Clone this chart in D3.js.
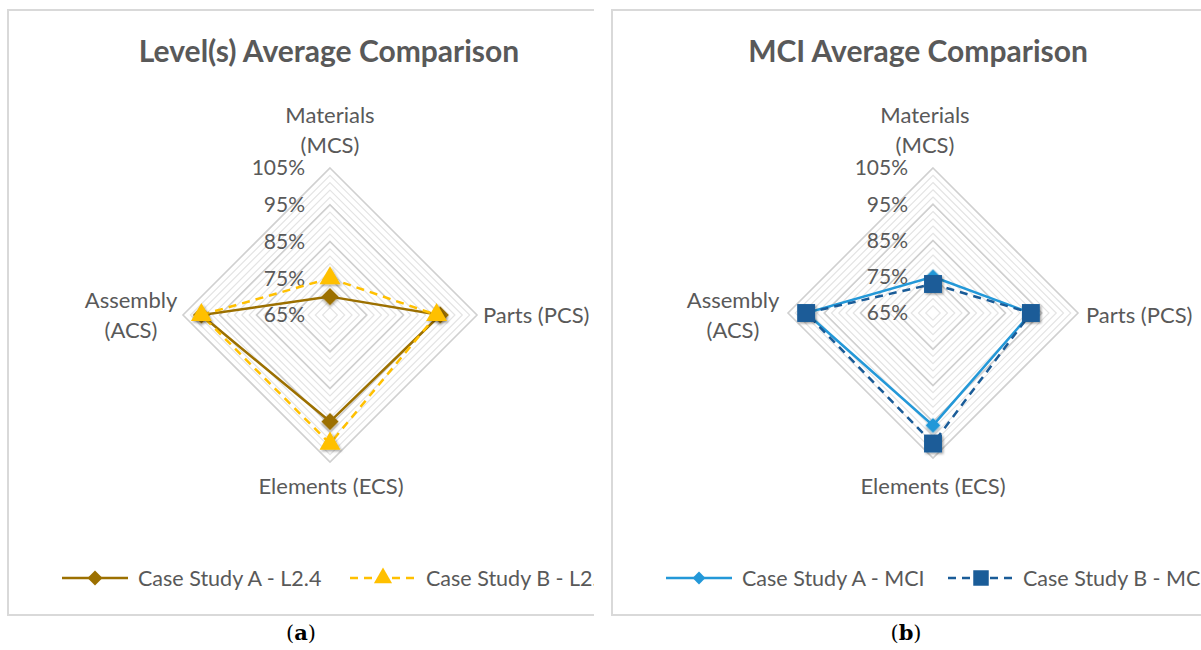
<!DOCTYPE html>
<html>
<head>
<meta charset="utf-8">
<script src="https://cdn.jsdelivr.net/npm/d3@7"></script>
<style>
  body { margin: 0; background: #fff; }
  svg { display: block; font-family: Lato, "Open Sans", sans-serif; }
</style>
</head>
<body>
<svg id="chart"></svg>
<script>
// Data
var axes = ["Materials (MCS)", "Parts (PCS)", "Elements (ECS)", "Assembly (ACS)"];
var ticks = [65, 75, 85, 95, 105];
var minorTicks = d3.range(67, 105, 2);
var levelA = [70, 95, 94, 100];
var levelB = [75, 94, 100, 100];
var mciA = [75, 92, 96, 100];
var mciB = [73, 92, 101, 100];

var width = 1201, height = 650;
var textColor = "#595959";

var svg = d3.select("#chart").attr("width", width).attr("height", height);
var defs = svg.append("defs");

defs.append("filter").attr("id", "shadow")
    .attr("x", "-50%").attr("y", "-50%").attr("width", "200%").attr("height", "200%")
  .append("feDropShadow")
    .attr("dx", 1.5).attr("dy", 1.5).attr("stdDeviation", 1.2)
    .attr("flood-color", "#000").attr("flood-opacity", 0.35);

var panels = [
  { id: "a", x: 8, y: 10, w: 644, h: 605, clipW: 586, cx: 330, cy: 315, R: 147,
    title: "Level(s) Average Comparison", titleX: 329, caption: "a", captionX: 301,
    series: [
      { name: "Case Study A - L2.4", values: levelA, color: "#9C7000", dash: null, marker: "diamond", size: 150 },
      { name: "Case Study B - L2.4", values: levelB, color: "#FFC000", dash: "8,6", marker: "triangle", size: 190 }
    ],
    labels: [
      { lines: ["Materials", "(MCS)"], x: 330, y: 115, anchor: "middle" },
      { lines: ["Parts (PCS)"], x: 483, y: 315, anchor: "start" },
      { lines: ["Elements (ECS)"], x: 331, y: 486, anchor: "middle" },
      { lines: ["Assembly", "(ACS)"], x: 131, y: 300, anchor: "middle" }
    ],
    legendX: [62, 350], legendTextX: [138, 426] },
  { id: "b", x: 612, y: 10, w: 644, h: 605, clipW: 589, cx: 933, cy: 313, R: 145,
    title: "MCI Average Comparison", titleX: 918, caption: "b", captionX: 906,
    series: [
      { name: "Case Study A - MCI", values: mciA, color: "#2398D8", dash: null, marker: "diamond", size: 110 },
      { name: "Case Study B - MCI", values: mciB, color: "#1A5C98", dash: "8,6", marker: "square", size: 320 }
    ],
    labels: [
      { lines: ["Materials", "(MCS)"], x: 925, y: 115, anchor: "middle" },
      { lines: ["Parts (PCS)"], x: 1086, y: 315, anchor: "start" },
      { lines: ["Elements (ECS)"], x: 933, y: 486, anchor: "middle" },
      { lines: ["Assembly", "(ACS)"], x: 733, y: 300, anchor: "middle" }
    ],
    legendX: [666, 948], legendTextX: [742, 1023] }
];

function markerPath(kind, size) {
  if (kind === "triangle") return d3.symbol().type(d3.symbolTriangle).size(size)();
  return d3.symbol().type(d3.symbolSquare).size(size)();
}

panels.forEach(function (p) {
  defs.append("clipPath").attr("id", "clip-" + p.id)
    .append("rect").attr("x", p.x - 2).attr("y", p.y - 2).attr("width", p.clipW + 2).attr("height", p.h + 4);

  var g = svg.append("g").attr("clip-path", "url(#clip-" + p.id + ")");

  // panel border
  g.append("rect")
    .attr("x", p.x).attr("y", p.y).attr("width", p.w).attr("height", p.h)
    .attr("fill", "#fff").attr("stroke", "#d9d9d9").attr("stroke-width", 2);

  g.append("text")
    .attr("x", p.titleX).attr("y", 62)
    .attr("text-anchor", "middle")
    .attr("font-size", 30).attr("font-weight", "bold")
    .attr("fill", textColor)
    .text(p.title);

  var r = d3.scaleLinear().domain([65, 105]).range([0, p.R]);
  var angle = d3.scaleLinear().domain([0, axes.length]).range([0, 2 * Math.PI]);

  var plot = g.append("g").attr("transform", "translate(" + p.cx + "," + p.cy + ")");

  var ring = d3.lineRadial()
    .angle(function (d, i) { return angle(i); })
    .radius(function (d) { return r(d); })
    .curve(d3.curveLinearClosed);

  // gridlines
  plot.selectAll("path.minor").data(minorTicks).enter().append("path")
    .attr("class", "minor")
    .attr("d", function (t) { return ring(axes.map(function () { return t; })); })
    .attr("fill", "none").attr("stroke", "#e4e4e4").attr("stroke-width", 1.2);

  plot.selectAll("path.major").data(ticks).enter().append("path")
    .attr("class", "major")
    .attr("d", function (t) { return ring(axes.map(function () { return t; })); })
    .attr("fill", "none").attr("stroke", "#d0d0d0").attr("stroke-width", 1.6);

  // tick labels
  plot.selectAll("text.tick").data(ticks).enter().append("text")
    .attr("class", "tick")
    .attr("x", -25).attr("y", function (t) { return -r(t); })
    .attr("dy", "0.35em")
    .attr("text-anchor", "end")
    .attr("font-size", 21).attr("fill", textColor)
    .text(function (t) { return t + "%"; });

  // series
  p.series.forEach(function (s) {
    plot.append("path")
      .attr("d", ring(s.values))
      .attr("fill", "none")
      .attr("stroke", s.color).attr("stroke-width", 2.5)
      .attr("stroke-dasharray", s.dash);

    plot.selectAll(null).data(s.values).enter().append("path")
      .attr("transform", function (d, i) {
        var a = angle(i) - Math.PI / 2;
        var rot = s.marker === "diamond" ? 45 : 0;
        return "translate(" + (Math.cos(a) * r(d)) + "," + (Math.sin(a) * r(d)) + ")rotate(" + rot + ")";
      })
      .attr("d", markerPath(s.marker, s.size))
      .attr("fill", s.color)
      .attr("filter", "url(#shadow)");
  });

  // axis labels
  p.labels.forEach(function (l) {
    var t = g.append("text")
      .attr("text-anchor", l.anchor)
      .attr("font-size", 22).attr("fill", textColor);
    l.lines.forEach(function (line, i) {
      t.append("tspan").attr("x", l.x).attr("y", l.y + i * 30).attr("dy", "0.35em").text(line);
    });
  });

  // legend
  p.series.forEach(function (s, i) {
    var lx = p.legendX[i], ly = 578;
    g.append("line")
      .attr("x1", lx).attr("x2", lx + 66).attr("y1", ly).attr("y2", ly)
      .attr("stroke", s.color).attr("stroke-width", 2.5)
      .attr("stroke-dasharray", s.dash);
    g.append("path")
      .attr("transform", "translate(" + (lx + 33) + "," + ly + ")rotate(" + (s.marker === "diamond" ? 45 : 0) + ")")
      .attr("d", markerPath(s.marker, s.size * 0.75))
      .attr("fill", s.color);
    g.append("text")
      .attr("x", p.legendTextX[i]).attr("y", ly).attr("dy", "0.35em")
      .attr("font-size", 21.5).attr("fill", textColor)
      .text(s.name);
  });

  // caption
  var cap = svg.append("text")
    .attr("x", p.captionX).attr("y", 640)
    .attr("text-anchor", "middle")
    .attr("font-family", "'DejaVu Serif', 'Liberation Serif', serif")
    .attr("font-size", 21).attr("fill", "#000");
  cap.append("tspan").text("(");
  cap.append("tspan").attr("font-weight", "bold").text(p.caption);
  cap.append("tspan").text(")");
});
</script>
</body>
</html>
